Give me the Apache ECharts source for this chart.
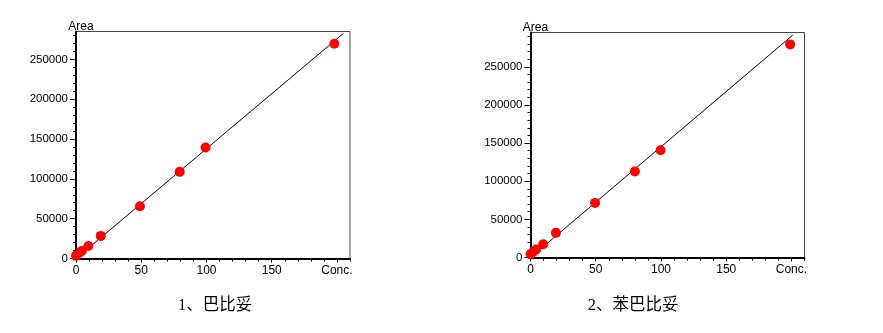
<!DOCTYPE html>
<html><head><meta charset="utf-8">
<script src="https://cdn.jsdelivr.net/npm/echarts@6/dist/echarts.min.js"></script>
<style>html,body{margin:0;padding:0;background:#fff}#c{width:883px;height:333px}</style>
</head><body><div id="c"></div>
<script>
// Chart 1: 巴比妥
var conc1 = [0, 3, 4.5, 9.5, 19, 49, 79.5, 99.3, 198];
var area1 = [3300, 7500, 9500, 15800, 28400, 65700, 108800, 139400, 269600];
var fit1X = [0, 205];
var fit1Y = [0, 282700];
// Chart 2: 苯巴比妥
var conc2 = [0, 2, 4.3, 9.7, 19.5, 49.5, 80, 99.7, 199];
var area2 = [4300, 7300, 10500, 17400, 32300, 71600, 112800, 140700, 279400];
var fit2X = [0, 201];
var fit2Y = [0, 291600];
// Axis ticks / labels
var xMajor = [0, 50, 100, 150, 200];
var xMinor = [0,10,20,30,40,50,60,70,80,90,100,110,120,130,140,150,160,170,180,190,200,210];
var yMajor = [0, 50000, 100000, 150000, 200000, 250000];
var yMinor1 = [0,10000,20000,30000,40000,50000,60000,70000,80000,90000,100000,110000,120000,130000,140000,150000,160000,170000,180000,190000,200000,210000,220000,230000,240000,250000,260000,270000,280000];
var yMinor2 = yMinor1.concat([290000]);
var captions = ['1、巴比妥', '2、苯巴比妥'];
var xName = 'Conc.';
var yName = 'Area';

var FONT = 'Liberation Sans';
var zip = function(a, b){ return a.map(function(v, i){ return [v, b[i]]; }); };

function xAxes(gi, max) {
  return [{
    gridIndex: gi, type: 'value', position: 'bottom', min: 0, max: max,
    axisLine: {show: true, lineStyle: {color: '#000', width: 2}},
    axisTick: {show: true, length: 4, customValues: xMajor, lineStyle: {color: '#000', width: 1}},
    axisLabel: {show: true, customValues: xMajor, margin: 6, color: '#000', fontFamily: FONT, fontSize: 12,
      formatter: function(v){ return v === 200 ? xName : String(v); }},
    splitLine: {show: false}
  }, {
    gridIndex: gi, type: 'value', position: 'bottom', min: 0, max: max,
    axisLine: {show: false},
    axisTick: {show: true, length: 3, customValues: xMinor, lineStyle: {color: '#000', width: 1}},
    axisLabel: {show: false},
    splitLine: {show: false}
  }];
}
function yAxes(gi, max, minor) {
  return [{
    gridIndex: gi, type: 'value', position: 'left', min: 0, max: max,
    name: yName, nameLocation: 'end', nameGap: -1,
    nameTextStyle: {color: '#000', fontFamily: FONT, fontSize: 12, align: 'center', padding: [0, 0, 0, 10]},
    axisLine: {show: true, lineStyle: {color: '#000', width: 2}},
    axisTick: {show: true, length: 6, customValues: yMajor, lineStyle: {color: '#000', width: 1}},
    axisLabel: {show: true, customValues: yMajor, margin: 8, color: '#000', fontFamily: FONT, fontSize: 11.5,
      formatter: function(v){ return String(v); }},
    splitLine: {show: false}
  }, {
    gridIndex: gi, type: 'value', position: 'left', min: 0, max: max,
    axisLine: {show: false},
    axisTick: {show: true, length: 3, customValues: minor, lineStyle: {color: '#000', width: 1}},
    axisLabel: {show: false},
    splitLine: {show: false}
  }];
}

var chart = echarts.init(document.getElementById('c'), null, {renderer: 'canvas'});
chart.setOption({
  animation: false,
  backgroundColor: '#fff',
  grid: [
    {left: 76, top: 31.5, width: 274, height: 227, show: true, borderColor: '#444', borderWidth: 1, backgroundColor: 'transparent'},
    {left: 530.5, top: 32.5, width: 274, height: 225, show: true, borderColor: '#444', borderWidth: 1, backgroundColor: 'transparent'}
  ],
  xAxis: xAxes(0, 210).concat(xAxes(1, 210)),
  yAxis: yAxes(0, 285000, yMinor1).concat(yAxes(1, 295000, yMinor2)),
  series: [
    {type: 'line', xAxisIndex: 0, yAxisIndex: 0, data: zip(fit1X, fit1Y), symbol: 'none', lineStyle: {color: '#000', width: 1}, z: 2},
    {type: 'scatter', xAxisIndex: 0, yAxisIndex: 0, data: zip(conc1, area1), symbolSize: 10, itemStyle: {color: '#ff0000', opacity: 1}, z: 3},
    {type: 'line', xAxisIndex: 2, yAxisIndex: 2, data: zip(fit2X, fit2Y), symbol: 'none', lineStyle: {color: '#000', width: 1}, z: 2},
    {type: 'scatter', xAxisIndex: 2, yAxisIndex: 2, data: zip(conc2, area2), symbolSize: 10, itemStyle: {color: '#ff0000', opacity: 1}, z: 3}
  ],
  graphic: [
    {type: 'text', x: 215, y: 306, style: {text: captions[0], fill: '#000', font: '16.5px "Liberation Serif", "Noto Sans CJK SC"', textAlign: 'center', textVerticalAlign: 'middle'}},
    {type: 'text', x: 633, y: 306, style: {text: captions[1], fill: '#000', font: '16.5px "Liberation Serif", "Noto Sans CJK SC"', textAlign: 'center', textVerticalAlign: 'middle'}}
  ]
});
</script></body></html>
